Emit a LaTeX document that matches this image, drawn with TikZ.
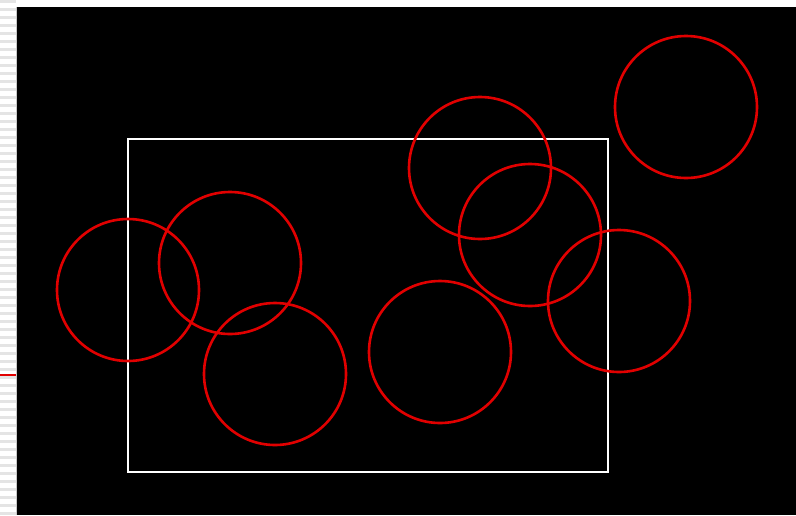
\documentclass[tikz,border=0pt]{standalone}
\usepackage{tikz}
\definecolor{circred}{RGB}{225,0,0}
\definecolor{stripe}{RGB}{228,228,228}
\definecolor{edge}{RGB}{200,200,200}

\begin{document}
\begin{tikzpicture}[x=1pt,y=-1pt,
    ring/.style={draw=circred,line width=2.6pt,circle,minimum size=142pt,inner sep=0pt},
    frame/.style={draw=white,line width=2.4pt}]
      \useasboundingbox (0,0) rectangle (796,515);
      % background and left strip
      \fill[white] (0,0) rectangle (796,515);
      \foreach \y in {0,8,...,512}{
        \fill[stripe] (0,\y) rectangle (16,\y+3);
      }
      \draw[edge,line width=1pt] (16.5,7) -- (16.5,515);
      \fill[black] (17,7) rectangle (796,515);
      \fill[circred] (0,374.2) rectangle (16,375.8);
      % the window
      \coordinate (nw) at (128,139);
      \coordinate (se) at (608,472);
      \draw[frame] (nw) rectangle (se);
      % circles
      \node[ring] (c1) at (128,290) {};
      \node[ring] (c2) at (230,263) {};
      \node[ring] (c3) at (275,374) {};
      \node[ring] (c4) at (440,352) {};
      \node[ring] (c5) at (480,168) {};
      \node[ring] (c6) at (530,235) {};
      \node[ring] (c7) at (619,301) {};
      \node[ring] (c8) at (686,107) {};
\end{tikzpicture}
\end{document}
